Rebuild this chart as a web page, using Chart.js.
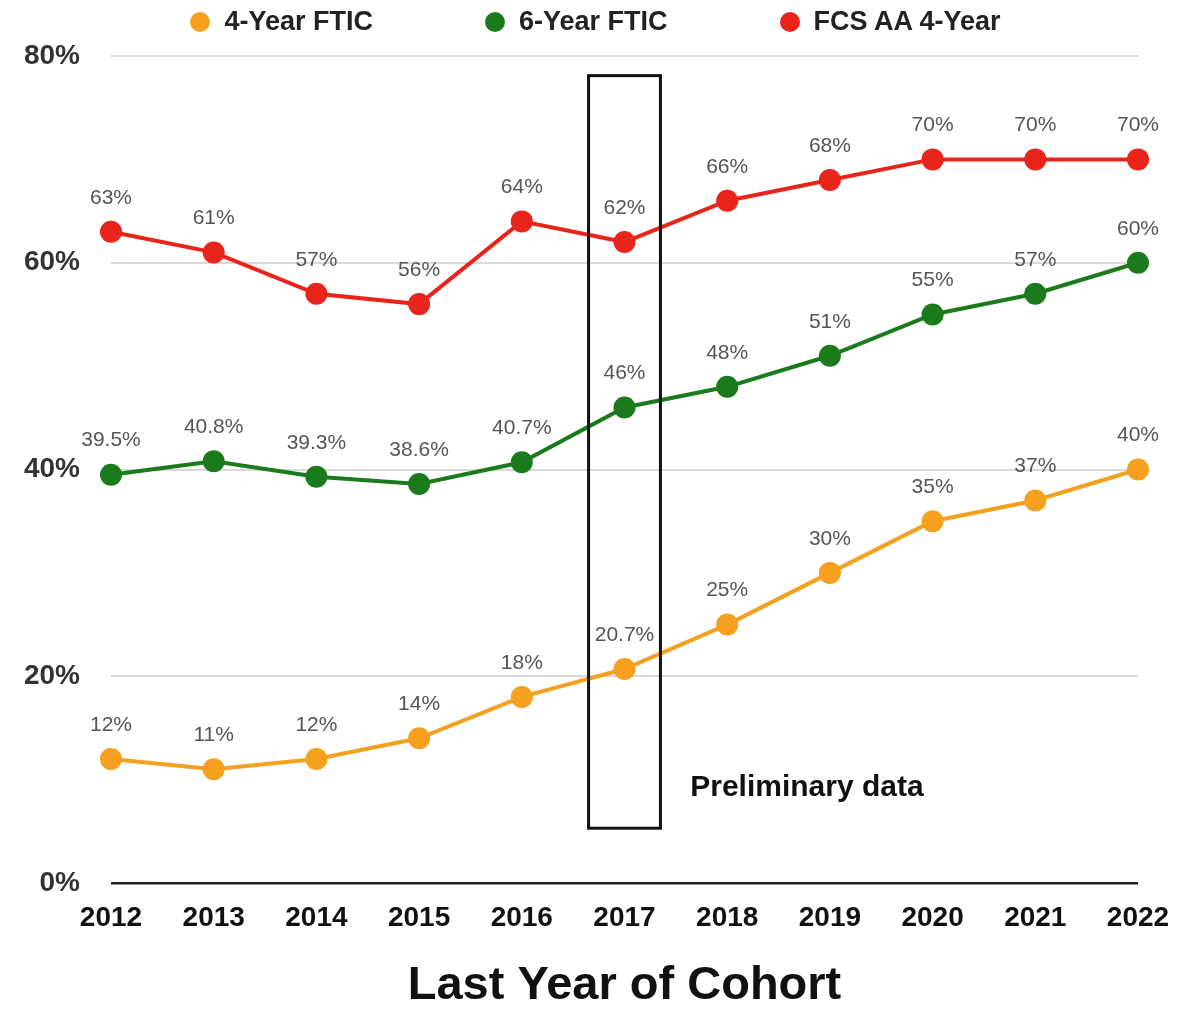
<!DOCTYPE html>
<html>
<head>
<meta charset="utf-8">
<script src="https://cdn.jsdelivr.net/npm/chart.js@4"></script>
<style>
  body { margin: 0; background: #fff; font-family: "Liberation Sans", Arial, sans-serif; overflow: hidden; }
  .wrap { position: relative; width: 1177px; height: 1010px; }
  .legend { position: absolute; top: 6px; left: 0; width: 1177px; display: flex; justify-content: center; padding-left: 14px; box-sizing: border-box; }
  .legend .item { display: flex; align-items: center; margin: 0 56px; font-weight: bold; font-size: 27px; color: #222; }
  .legend .dot { width: 20px; height: 20px; border-radius: 50%; margin-right: 14px; }
</style>
</head>
<body>
<div class="wrap">
  <canvas id="chart" width="1177" height="1010"></canvas>
  <div class="legend" id="legend"></div>
</div>
<script>
// data
const years = ['2012', '2013', '2014', '2015', '2016', '2017', '2018', '2019', '2020', '2021', '2022'];
const ftic4 = [12, 11, 12, 14, 18, 20.7, 25, 30, 35, 37, 40];
const ftic6 = [39.5, 40.8, 39.3, 38.6, 40.7, 46, 48, 51, 55, 57, 60];
const fcsAA4 = [63, 61, 57, 56, 64, 62, 66, 68, 70, 70, 70];
const seriesNames = ['4-Year FTIC', '6-Year FTIC', 'FCS AA 4-Year'];
const seriesColors = ['#F5A01E', '#1B7A1B', '#E8241B'];

// preliminary-data marker (in scale units)
const boxIndex = 5;      // 2017
const boxHalf = 0.35;
const boxTop = 78.1;
const boxBottom = 5.3;
const noteText = 'Preliminary data';
const noteIndex = 5.64;
const noteValue = 9.2;

const FONT = '"Liberation Sans", Arial, sans-serif';

// HTML legend
const legendEl = document.getElementById('legend');
legendEl.innerHTML = seriesNames.map((n, i) =>
  `<div class="item"><span class="dot" style="background:${seriesColors[i]}"></span>${n}</div>`).join('');

// value labels above each point
const valueLabels = {
  id: 'valueLabels',
  afterDatasetsDraw(chart) {
    const ctx = chart.ctx;
    ctx.save();
    ctx.font = '21px ' + FONT;
    ctx.fillStyle = '#555';
    ctx.textAlign = 'center';
    ctx.textBaseline = 'middle';
    chart.data.datasets.forEach((ds, di) => {
      chart.getDatasetMeta(di).data.forEach((pt, i) => {
        ctx.fillText(ds.data[i] + '%', pt.x, pt.y - 34);
      });
    });
    ctx.restore();
  }
};

// box around 2017 + note
const prelimBox = {
  id: 'prelimBox',
  afterDraw(chart) {
    const x = chart.scales.x, y = chart.scales.y;
    const ctx = chart.ctx;
    const left = x.getPixelForValue(boxIndex - boxHalf);
    const right = x.getPixelForValue(boxIndex + boxHalf);
    const top = y.getPixelForValue(boxTop);
    const bottom = y.getPixelForValue(boxBottom);
    ctx.save();
    ctx.strokeStyle = '#111';
    ctx.lineWidth = 3;
    ctx.strokeRect(left, top, right - left, bottom - top);
    ctx.font = 'bold 30px ' + FONT;
    ctx.fillStyle = '#111';
    ctx.textAlign = 'left';
    ctx.textBaseline = 'middle';
    ctx.fillText(noteText, x.getPixelForValue(noteIndex), y.getPixelForValue(noteValue));
    ctx.restore();
  }
};

const allData = [ftic4, ftic6, fcsAA4];

new Chart(document.getElementById('chart'), {
  type: 'line',
  data: {
    labels: years,
    datasets: allData.map((d, i) => ({
      label: seriesNames[i],
      data: d,
      borderColor: seriesColors[i],
      backgroundColor: seriesColors[i],
      pointBackgroundColor: seriesColors[i],
      pointBorderColor: seriesColors[i],
      borderWidth: 4,
      pointRadius: 11,
      pointBorderWidth: 0,
      tension: 0
    }))
  },
  options: {
    responsive: false,
    animation: false,
    layout: { padding: { top: 56, right: 39, left: 0, bottom: 0 } },
    plugins: {
      legend: { display: false },
      tooltip: { enabled: false }
    },
    scales: {
      x: {
        offset: false,
        grid: { display: false, drawTicks: false },
        border: { display: false },
        ticks: { color: '#111', padding: 18, font: { family: FONT, size: 28, weight: 'bold' }, maxRotation: 0 },
        title: {
          display: true,
          text: 'Last Year of Cohort',
          color: '#111',
          padding: { top: 0, bottom: 0 },
          font: { family: FONT, size: 47, weight: 'bold', lineHeight: 1 }
        },
        afterFit(s) { s.height = 127; s.paddingLeft = 0; s.paddingRight = 0; }
      },
      y: {
        min: 0,
        max: 80,
        grid: {
          drawTicks: false,
          lineWidth: c => c.tick.value === 0 ? 2.5 : 2,
          color: c => c.tick.value === 0 ? '#222' : '#d9d9d9'
        },
        border: { display: false },
        ticks: {
          stepSize: 20,
          padding: 31,
          color: '#333',
          font: { family: FONT, size: 28, weight: 'bold' },
          callback: v => v + '%'
        },
        afterFit(s) { s.width = 111; }
      }
    }
  },
  plugins: [valueLabels, prelimBox]
});
</script>
</body>
</html>
